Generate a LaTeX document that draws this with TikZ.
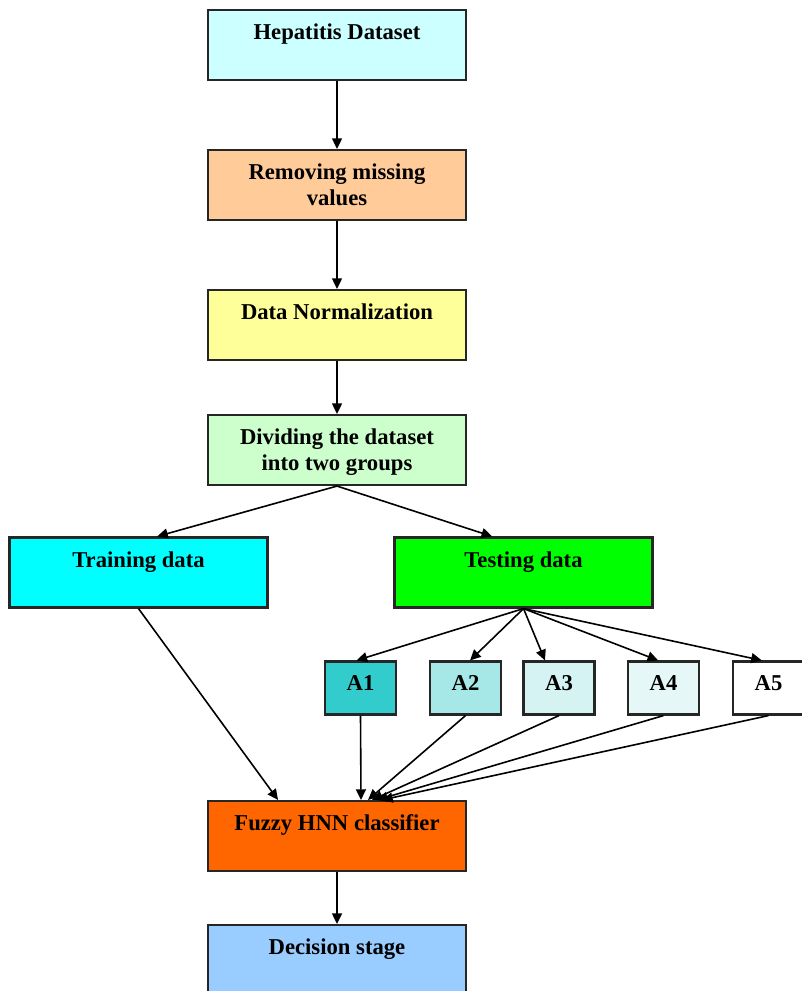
\documentclass[tikz,border=0pt]{standalone}
\usepackage{fontspec}
\setmainfont{Liberation Serif}
\usetikzlibrary{arrows.meta}
\definecolor{hepblue}{HTML}{CCFFFF}
\definecolor{peach}{HTML}{FFCC99}
\definecolor{paleyellow}{HTML}{FFFF99}
\definecolor{palegreen}{HTML}{CCFFCC}
\definecolor{aqua}{HTML}{00FFFF}
\definecolor{brightgreen}{HTML}{00FF00}
\definecolor{tealA}{HTML}{33CCCC}
\definecolor{tealB}{HTML}{A6E8E8}
\definecolor{tealC}{HTML}{D6F3F3}
\definecolor{tealD}{HTML}{E6F7F7}
\definecolor{fuzzyorange}{HTML}{FF6600}
\definecolor{skyblue}{HTML}{99CCFF}

\begin{document}
\begin{tikzpicture}[x=0.75pt, y=-0.75pt,
    stage/.style={draw=black!85, line width=1.6pt, minimum width=193.5pt,
        minimum height=52.5pt, inner sep=0pt},
    part/.style={stage, minimum width=53.25pt, minimum height=39.75pt},
    txt/.style={anchor=north, yshift=-11pt, inner sep=0pt, align=center,
        font=\fontsize{17}{19.5}\selectfont\bfseries},
    flow/.style={-{Triangle[length=8pt, width=7.5pt]}, line width=1.2pt}]
    \useasboundingbox (0,0) rectangle (801,991);

    % main column
    \node[stage, fill=hepblue, label={[txt]north:Hepatitis Dataset}] (hep) at (337,45) {};
    \node[stage, fill=peach, label={[txt]north:Removing missing\\values}] (rem) at (337,185) {};
    \node[stage, fill=paleyellow, label={[txt]north:Data Normalization}] (norm) at (337,325) {};
    \node[stage, fill=palegreen, label={[txt]north:Dividing the dataset\\into two groups}] (div) at (337,450) {};

    % the two groups
    \node[stage, fill=aqua, label={[txt]north:Training data}] (train) at (138.5,572.5) {};
    \node[stage, fill=brightgreen, label={[txt]north:Testing data}] (test) at (523.5,572.5) {};

    % parts of the testing data
    \node[part, fill=tealA, label={[txt]north:A1}] (a1) at (360.5,688) {};
    \node[part, fill=tealB, label={[txt]north:A2}] (a2) at (465.5,688) {};
    \node[part, fill=tealC, label={[txt]north:A3}] (a3) at (559,688) {};
    \node[part, fill=tealD, label={[txt]north:A4}] (a4) at (663.5,688) {};
    \node[part, fill=white, label={[txt]north:A5}] (a5) at (768.5,688) {};

    \node[stage, fill=fuzzyorange, label={[txt]north:Fuzzy HNN classifier}] (fuzzy) at (337,836) {};
    \node[stage, fill=skyblue, label={[txt]north:Decision stage}] (dec) at (337,960) {};

    % connectors
    \draw[flow] (hep) -- (rem);
    \draw[flow] (rem) -- (norm);
    \draw[flow] (norm) -- (div);
    \draw[flow] (div.south) -- ([xshift=14pt]train.north);
    \draw[flow] (div.south) -- ([xshift=-23.5pt]test.north);
    \draw[flow] (test.south) -- ([xshift=-3pt]a1.north);
    \draw[flow] (test.south) -- ([xshift=3.4pt]a2.north);
    \draw[flow] (test.south) -- ([xshift=-10.5pt]a3.north);
    \draw[flow] (test.south) -- ([xshift=-4pt]a4.north);
    \draw[flow] (test.south) -- ([xshift=-5pt]a5.north);
    \draw[flow] (train.south) -- ([xshift=-44.25pt]fuzzy.north);
    \draw[flow] (a1.south) -- ([xshift=18pt]fuzzy.north);
    \draw[flow] (a2.south) -- ([xshift=23.25pt]fuzzy.north);
    \draw[flow] (a3.south) -- ([xshift=26.25pt]fuzzy.north);
    \draw[flow] (a4.south) -- ([xshift=30pt]fuzzy.north);
    \draw[flow] (a5.south) -- ([xshift=33.75pt]fuzzy.north);
    \draw[flow] (fuzzy) -- (dec);
\end{tikzpicture}
\end{document}
